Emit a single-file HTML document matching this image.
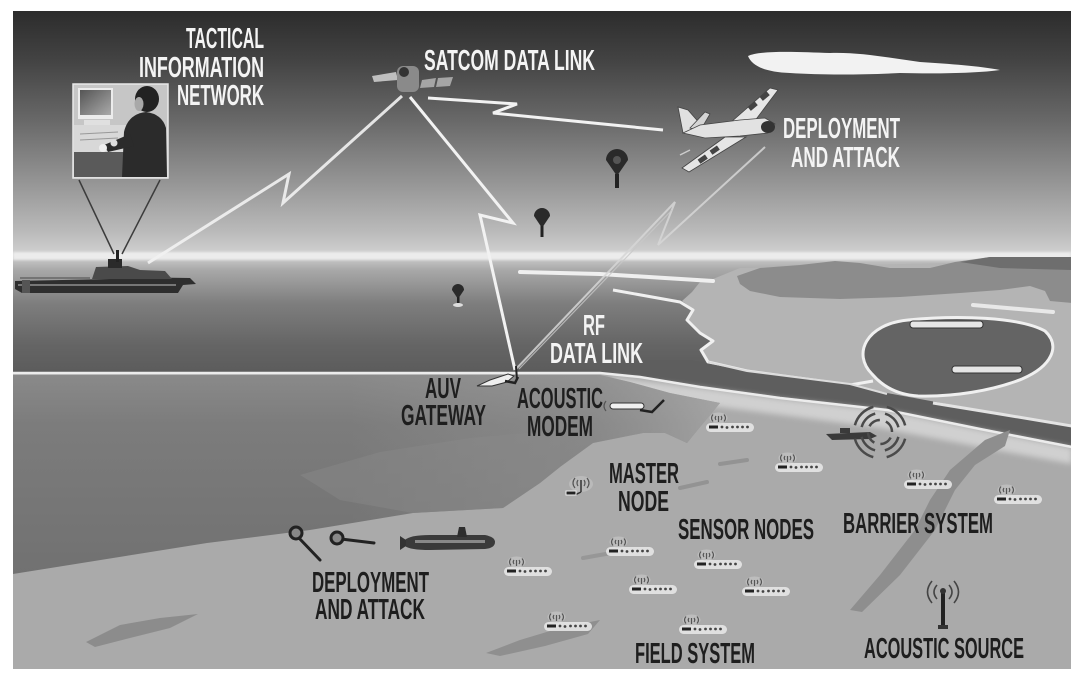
<!DOCTYPE html>
<html><head><meta charset="utf-8"><style>
html,body{margin:0;padding:0;background:#fff;}
svg{display:block;}
text{font-family:"Liberation Sans",Arial,sans-serif;font-weight:bold;font-size:29px;}
.w{fill:#f4f4f4;}
.d{fill:#1e1e1e;}
</style></head><body>
<svg width="1080" height="679" viewBox="0 0 1080 679" xmlns="http://www.w3.org/2000/svg">
<defs>
<clipPath id="c"><rect x="13" y="11" width="1058" height="658"/></clipPath>
<linearGradient id="sky" x1="0" y1="11" x2="0" y2="256" gradientUnits="userSpaceOnUse">
<stop offset="0" stop-color="#2c2c2c"/><stop offset="0.2" stop-color="#434343"/><stop offset="0.45" stop-color="#696969"/><stop offset="0.7" stop-color="#959595"/><stop offset="0.9" stop-color="#bababa"/><stop offset="1" stop-color="#d2d2d2"/>
</linearGradient>
<linearGradient id="sea" x1="0" y1="256" x2="0" y2="374" gradientUnits="userSpaceOnUse">
<stop offset="0" stop-color="#cdcdcd"/><stop offset="0.12" stop-color="#a8a8a8"/><stop offset="0.4" stop-color="#7e7e7e"/><stop offset="0.75" stop-color="#656565"/><stop offset="1" stop-color="#5b5b5b"/>
</linearGradient>
<linearGradient id="deep" x1="0" y1="374" x2="0" y2="575" gradientUnits="userSpaceOnUse">
<stop offset="0" stop-color="#8a8a8a"/><stop offset="0.25" stop-color="#7c7c7c"/><stop offset="1" stop-color="#717171"/>
</linearGradient>
<linearGradient id="deepR" x1="350" y1="0" x2="760" y2="0" gradientUnits="userSpaceOnUse">
<stop offset="0" stop-color="#b0b0b0" stop-opacity="0"/><stop offset="0.6" stop-color="#a8a8a8" stop-opacity="0.3"/><stop offset="1" stop-color="#b8b8b8" stop-opacity="0.8"/>
</linearGradient>
<linearGradient id="mon" x1="0" y1="0" x2="1" y2="1">
<stop offset="0" stop-color="#555"/><stop offset="1" stop-color="#aaa"/>
</linearGradient>
<filter id="bl" x="-20%" y="-50%" width="140%" height="200%"><feGaussianBlur stdDeviation="3"/></filter>
<filter id="bl1" x="-20%" y="-50%" width="140%" height="200%"><feGaussianBlur stdDeviation="1"/></filter>
<g id="sn">
<rect x="-1" y="10" width="48" height="9" rx="4.5" fill="#e6e6e6" opacity="0.9"/>
<ellipse cx="11.5" cy="5" rx="9" ry="5.5" fill="#c8c8c8" opacity="0.65"/>
<path d="M6,1.5 Q3,5 6,8.5 M9,3 Q7.5,5 9,7 M17,1.5 Q20,5 17,8.5 M14,3 Q15.5,5 14,7" stroke="#555" stroke-width="1.2" fill="none"/>
<line x1="11.5" y1="3" x2="11.5" y2="9" stroke="#555" stroke-width="1.2"/>
<rect x="2" y="12.5" width="9" height="3" fill="#222"/>
<circle cx="15" cy="14" r="1.4" fill="#444"/><circle cx="20" cy="14.5" r="1.4" fill="#444"/><circle cx="25.5" cy="14" r="1.4" fill="#444"/><circle cx="30.5" cy="14" r="1.4" fill="#444"/><circle cx="35.5" cy="14" r="1.4" fill="#444"/><circle cx="40.5" cy="14" r="1.4" fill="#444"/>
</g>
</defs>

<rect width="1080" height="679" fill="#fff"/>
<g clip-path="url(#c)">
<!-- sky -->
<rect x="13" y="11" width="1058" height="247" fill="url(#sky)"/>
<!-- sea -->
<rect x="13" y="256" width="1058" height="118" fill="url(#sea)"/>
<!-- seafloor light base -->
<rect x="13" y="373" width="1058" height="296" fill="#aaaaaa"/>
<!-- horizon glow -->
<rect x="13" y="252" width="1058" height="8" fill="#ececec" filter="url(#bl1)"/>

<!-- far land -->
<polygon points="700,282 713,279 740,268 1072,260 1072,428 980,412 887,396 780,382 747,372 708,362 701,350 713,341 700,333 687,320 693,309 682,301 692,292" fill="#b4b4b4"/>
<!-- hills -->
<polygon points="737,276 760,268 800,265 835,261 860,263 890,268 930,268 955,262 990,257 1072,257 1072,303 1050,301 1045,291 1030,286 1000,290 960,293 900,297 840,299 780,297 750,291 740,284" fill="#8c8c8c"/>
<polygon points="960,262 990,257 1072,257 1072,270 1000,268" fill="#6e6e6e"/>
<!-- white strip & coast -->
<polyline points="520,272 600,274 713,281" stroke="#efefef" stroke-width="4" fill="none" stroke-linecap="round"/>
<polyline points="613,290 680,302 693,310 687,320 700,333 713,341 701,350 708,362 747,371 850,385 873,381" stroke="#f0f0f0" stroke-width="3" fill="none" stroke-linejoin="round"/>
<polyline points="973,305 1053,312" stroke="#e8e8e8" stroke-width="4" fill="none" stroke-linecap="round"/>

<!-- bay -->
<path d="M872,374 C852,354 866,324 908,320 C958,315 1020,317 1045,331 C1061,346 1052,366 1022,379 C992,391 952,397 918,396 C900,395 884,388 872,374 Z" fill="#646464" stroke="#f0f0f0" stroke-width="3"/>
<rect x="910" y="321" width="73" height="7" rx="3" fill="#e5e5e5" stroke="#333" stroke-width="1"/>
<rect x="952" y="366" width="70" height="7" rx="3" fill="#e5e5e5" stroke="#333" stroke-width="1"/>

<!-- river -->
<polygon points="690,360 747,371 850,384 887,393 980,410 1072,426 1072,446 980,428 887,409 780,397 700,386 640,376 600,373 600,360" fill="#5e5e5e"/>
<polyline points="708,362 747,371 850,384 887,394" stroke="#dcdcdc" stroke-width="2" fill="none"/>
<polyline points="933,403 1000,414 1072,426" stroke="#e4e4e4" stroke-width="3" fill="none"/>
<!-- whitish beach band -->
<polygon points="610,377 700,388 780,399 887,411 980,430 1072,448 1072,464 980,447 880,428 790,416 720,407 660,398 620,388" fill="#d0d0d0" filter="url(#bl)"/>
<polyline points="13,373 600,373 640,377 700,387 780,398 887,410 980,429 1072,447" stroke="#ececec" stroke-width="2.5" fill="none"/>

<!-- medium seafloor -->
<polygon points="13,375 600,375 630,382 670,393 720,403 700,427 687,443 665,433 643,433 593,443 560,467 540,483 503,508 413,513 310,530 207,543 13,574" fill="url(#deep)"/>
<polygon points="13,375 600,375 630,382 670,393 720,403 700,427 687,443 665,433 643,433 593,443 560,467 540,483 503,508 413,513 310,530 207,543 13,574" fill="url(#deepR)"/>
<polygon points="300,475 380,452 470,438 560,430 560,467 540,483 503,508 413,513 340,500" fill="#8a8a8a" opacity="0.45"/>

<!-- seafloor patches -->
<polygon points="86,642 120,625 160,618 198,614 170,628 130,638 95,647" fill="#8c8c8c"/>
<polygon points="486,653 520,640 560,628 600,620 588,634 545,646 500,656" fill="#8f8f8f"/>
<polygon points="1010,430 985,440 950,470 930,500 915,530 880,575 850,610 862,612 900,575 935,530 955,490 975,465 1005,446" fill="#8e8e8e"/>
<line x1="720" y1="464" x2="747" y2="460" stroke="#939393" stroke-width="4" stroke-linecap="round"/>
<line x1="680" y1="488" x2="707" y2="482" stroke="#939393" stroke-width="4" stroke-linecap="round"/>
<line x1="583" y1="558" x2="617" y2="552" stroke="#979797" stroke-width="4" stroke-linecap="round"/>

<!-- cloud -->
<path d="M748,56 C760,50 800,52 830,53 C860,52 890,58 920,62 C950,64 980,66 1000,70 C980,73 940,74 900,73 C860,75 820,75 790,73 C765,72 752,66 748,56 Z" fill="#f2f2f2"/>

<!-- computer inset -->
<rect x="73" y="84" width="95" height="94" fill="#c6c6c6" stroke="#e8e8e8" stroke-width="1.5"/>
<rect x="74" y="125" width="62" height="28" fill="#d8d8d8"/>
<rect x="74" y="152" width="50" height="25" fill="#5a5a5a"/>
<rect x="78" y="88" width="35" height="31" fill="#ececec"/>
<rect x="80" y="90" width="31" height="25" fill="url(#mon)"/>
<rect x="84" y="120" width="26" height="5" fill="#e0e0e0"/>
<line x1="80" y1="134" x2="118" y2="132" stroke="#999" stroke-width="1"/>
<line x1="80" y1="140" x2="118" y2="138" stroke="#999" stroke-width="1"/>
<path d="M122,177 L124,132 Q128,114 146,112 Q162,114 166,128 L167,177 Z" fill="#2b2b2b"/>
<ellipse cx="147" cy="99" rx="12" ry="13" fill="#222"/>
<ellipse cx="139" cy="104" rx="4.5" ry="7" fill="#a8a8a8"/>
<path d="M130,134 L104,145 L108,152 L134,146 Z" fill="#2b2b2b"/>
<circle cx="103" cy="148" r="4" fill="#eee"/>
<circle cx="114" cy="143" r="3.5" fill="#ddd"/>
<line x1="79" y1="180" x2="114" y2="254" stroke="#3c3c3c" stroke-width="1.5"/>
<line x1="160" y1="180" x2="122" y2="254" stroke="#3c3c3c" stroke-width="1.5"/>

<!-- ship -->
<polygon points="15,281 110,279 120,277 190,278 196,284 183,285 178,293 22,293 15,289" fill="#2e2e2e"/>
<rect x="18" y="284" width="158" height="2" fill="#777"/>
<polygon points="92,279 96,267 128,266 140,270 165,271 172,279" fill="#4a4a4a"/>
<rect x="108" y="259" width="14" height="9" fill="#2a2a2a"/>
<rect x="116" y="250" width="3" height="12" fill="#222"/>
<rect x="22" y="280" width="8" height="13" fill="#555"/>
<line x1="20" y1="278" x2="90" y2="278" stroke="#666" stroke-width="1.5"/>

<!-- satellite -->
<polygon points="372,76 396,72 398,80 374,82" fill="#bfbfbf"/>
<rect x="397" y="66" width="22" height="26" rx="6" fill="#8a8a8a"/>
<circle cx="404" cy="72" r="5" fill="#333"/>
<polygon points="422,80 436,78 434,87 420,88" fill="#a5a5a5"/>
<polygon points="438,78 453,77 450,86 436,87" fill="#a5a5a5"/>

<!-- links -->
<g stroke="#f2f2f2" stroke-width="3" fill="none" stroke-linejoin="miter">
<polyline points="148,263 289,174 283,203 402,96" stroke-opacity="0.9"/>
<polyline points="410,97 513,223 480,215 515,370"/>
<polyline points="428,98 517,104 493,113 663,130"/>
</g>
<polyline points="515,370 675,202 658,245 765,147" stroke="#d6d6d6" stroke-width="2" fill="none" opacity="0.85"/>
<line x1="519" y1="369" x2="672" y2="210" stroke="#c8c8c8" stroke-width="1.2" opacity="0.8"/>

<!-- balloons -->
<path d="M606,160 A11,11 0 1,1 628,160 L617,176 Z" fill="#2a2a2a"/>
<circle cx="617" cy="160" r="4" fill="#555"/>
<rect x="615" y="174" width="4" height="14" fill="#222"/>
<path d="M534,216 A8,8 0 1,1 550,216 L542,228 Z" fill="#2a2a2a"/>
<rect x="540.5" y="226" width="3" height="11" fill="#222"/>
<path d="M452,290 A6,6 0 1,1 464,290 L458,299 Z" fill="#2a2a2a"/>
<rect x="457" y="297" width="2.5" height="6" fill="#222"/>
<ellipse cx="458" cy="305" rx="5" ry="2" fill="#ddd"/>

<!-- plane -->
<polygon points="683,133 678,107 688,110 702,126" fill="#e0e0e0" stroke="#444" stroke-width="0.8"/>
<polygon points="690,128 705,112 710,114 700,131" fill="#d4d4d4" stroke="#444" stroke-width="0.8"/>
<polygon points="730,123 770,88 778,90 754,122" fill="#e6e6e6" stroke="#444" stroke-width="0.8"/>
<polygon points="725,137 682,168 689,172 746,137" fill="#e6e6e6" stroke="#444" stroke-width="0.8"/>
<polygon points="683,133 700,125 740,120 765,118 775,124 768,133 740,136 705,138" fill="#e2e2e2" stroke="#444" stroke-width="0.8"/>
<ellipse cx="768" cy="127" rx="7" ry="6" fill="#333"/>
<rect x="748" y="104" width="9" height="5" fill="#444" transform="rotate(-40 752 106)"/>
<rect x="760" y="94" width="9" height="5" fill="#444" transform="rotate(-40 764 96)"/>
<rect x="710" y="148" width="9" height="5" fill="#444" transform="rotate(-35 714 150)"/>
<rect x="698" y="157" width="9" height="5" fill="#444" transform="rotate(-35 702 159)"/>
<line x1="690" y1="150" x2="680" y2="155" stroke="#ccc" stroke-width="1.5"/>

<!-- AUV gateway -->
<polygon points="477,386 490,380 508,374 514,376 507,382 492,386" fill="#eee" stroke="#333" stroke-width="1"/>
<path d="M505,381 L515,383 L518,377" stroke="#222" stroke-width="2.5" fill="none"/>
<line x1="516" y1="366" x2="517" y2="380" stroke="#222" stroke-width="2"/>

<!-- acoustic modem vehicle -->
<rect x="610" y="403" width="34" height="6" rx="3" fill="#f0f0f0" stroke="#333" stroke-width="1"/>
<path d="M640,410 L652,412 L664,400" stroke="#222" stroke-width="2.5" fill="none"/>
<path d="M606,401 Q602,406 606,411" stroke="#555" stroke-width="1.2" fill="none"/>

<!-- master node -->
<ellipse cx="581" cy="484" rx="12" ry="8" fill="#c4c4c4" opacity="0.6"/>
<path d="M575,478 Q571,483 575,488 M587,478 Q591,483 587,488 M578,480 Q576,483 578,486 M584,480 Q586,483 584,486" stroke="#555" stroke-width="1.2" fill="none"/>
<line x1="581" y1="480" x2="581" y2="492" stroke="#333" stroke-width="1.5"/>
<path d="M581,492 L575,495" stroke="#333" stroke-width="1.5"/>
<rect x="566" y="491" width="10" height="4" fill="#222" stroke="#eee" stroke-width="1"/>

<!-- sensor nodes -->
<use href="#sn" x="707" y="413"/>
<use href="#sn" x="776" y="453"/>
<use href="#sn" x="905" y="470"/>
<use href="#sn" x="995" y="485"/>
<use href="#sn" x="607" y="537"/>
<use href="#sn" x="695" y="550"/>
<use href="#sn" x="630" y="575"/>
<use href="#sn" x="743" y="577"/>
<use href="#sn" x="545" y="612"/>
<use href="#sn" x="680" y="615"/>
<use href="#sn" x="505" y="557"/>

<!-- barrier boat + sonar -->
<polygon points="826,434 870,432 877,436 870,439 832,440" fill="#3a3a3a"/>
<rect x="840" y="428" width="10" height="5" fill="#3a3a3a"/>
<g fill="none" stroke="#4a4a4a" stroke-width="2.5">
<circle cx="880" cy="432" r="12" stroke-dasharray="12.57 6.28" stroke-dashoffset="13.1"/>
<circle cx="880" cy="432" r="19" stroke-dasharray="19.9 9.95" stroke-dashoffset="24.9"/>
<circle cx="880" cy="432" r="26" stroke-dasharray="27.2 13.6" stroke-dashoffset="34"/>
</g>

<!-- acoustic source -->
<rect x="941" y="591" width="4" height="36" fill="#222"/>
<circle cx="943" cy="591" r="3" fill="#333"/>
<rect x="938" y="625" width="10" height="4" fill="#333"/>
<path d="M937,585 Q931,592 937,599 M932,581 Q923,592 932,603 M949,585 Q955,592 949,599 M954,581 Q963,592 954,603" stroke="#444" stroke-width="1.6" fill="none"/>

<!-- deploy pins -->
<line x1="298" y1="537" x2="320" y2="560" stroke="#222" stroke-width="3" stroke-linecap="round"/>
<circle cx="296" cy="533" r="6" fill="#888" stroke="#222" stroke-width="3"/>
<line x1="341" y1="539" x2="374" y2="543" stroke="#222" stroke-width="3" stroke-linecap="round"/>
<circle cx="337" cy="538" r="6" fill="#888" stroke="#222" stroke-width="3"/>

<!-- submarine -->
<path d="M405,540 Q410,535 430,535 L485,535 Q495,537 495,542 Q495,548 485,549 L430,550 Q410,550 405,546 Z" fill="#3a3a3a"/>
<rect x="415" y="540" width="70" height="3" fill="#888"/>
<polygon points="457,537 459,527 465,527 467,537" fill="#2e2e2e"/>
<polygon points="400,536 406,540 406,546 400,550" fill="#333"/>

<!-- labels -->
<text class="w" x="186" y="48" textLength="78" lengthAdjust="spacingAndGlyphs">TACTICAL</text>
<text class="w" x="139" y="77" textLength="125" lengthAdjust="spacingAndGlyphs">INFORMATION</text>
<text class="w" x="177" y="105" textLength="87" lengthAdjust="spacingAndGlyphs">NETWORK</text>
<text class="w" x="424" y="70" textLength="171" lengthAdjust="spacingAndGlyphs">SATCOM DATA LINK</text>
<text class="w" x="783" y="138" textLength="117" lengthAdjust="spacingAndGlyphs">DEPLOYMENT</text>
<text class="w" x="791" y="167" textLength="109" lengthAdjust="spacingAndGlyphs">AND ATTACK</text>
<text class="w" x="583" y="335" textLength="22" lengthAdjust="spacingAndGlyphs">RF</text>
<text class="w" x="550" y="363" textLength="93" lengthAdjust="spacingAndGlyphs">DATA LINK</text>
<text class="d" x="425" y="398" textLength="36" lengthAdjust="spacingAndGlyphs">AUV</text>
<text class="d" x="401" y="425" textLength="85" lengthAdjust="spacingAndGlyphs">GATEWAY</text>
<text class="d" x="517" y="408" textLength="86" lengthAdjust="spacingAndGlyphs">ACOUSTIC</text>
<text class="d" x="527" y="436" textLength="66" lengthAdjust="spacingAndGlyphs">MODEM</text>
<text class="d" x="609" y="483" textLength="70" lengthAdjust="spacingAndGlyphs">MASTER</text>
<text class="d" x="618" y="511" textLength="51" lengthAdjust="spacingAndGlyphs">NODE</text>
<text class="d" x="678" y="539" textLength="136" lengthAdjust="spacingAndGlyphs">SENSOR NODES</text>
<text class="d" x="843" y="533" textLength="150" lengthAdjust="spacingAndGlyphs">BARRIER SYSTEM</text>
<text class="d" x="312" y="592" textLength="117" lengthAdjust="spacingAndGlyphs">DEPLOYMENT</text>
<text class="d" x="315" y="619" textLength="110" lengthAdjust="spacingAndGlyphs">AND ATTACK</text>
<text class="d" x="635" y="663" textLength="120" lengthAdjust="spacingAndGlyphs">FIELD SYSTEM</text>
<text class="d" x="864" y="658" textLength="160" lengthAdjust="spacingAndGlyphs">ACOUSTIC SOURCE</text>
</g>
</svg>
</body></html>
